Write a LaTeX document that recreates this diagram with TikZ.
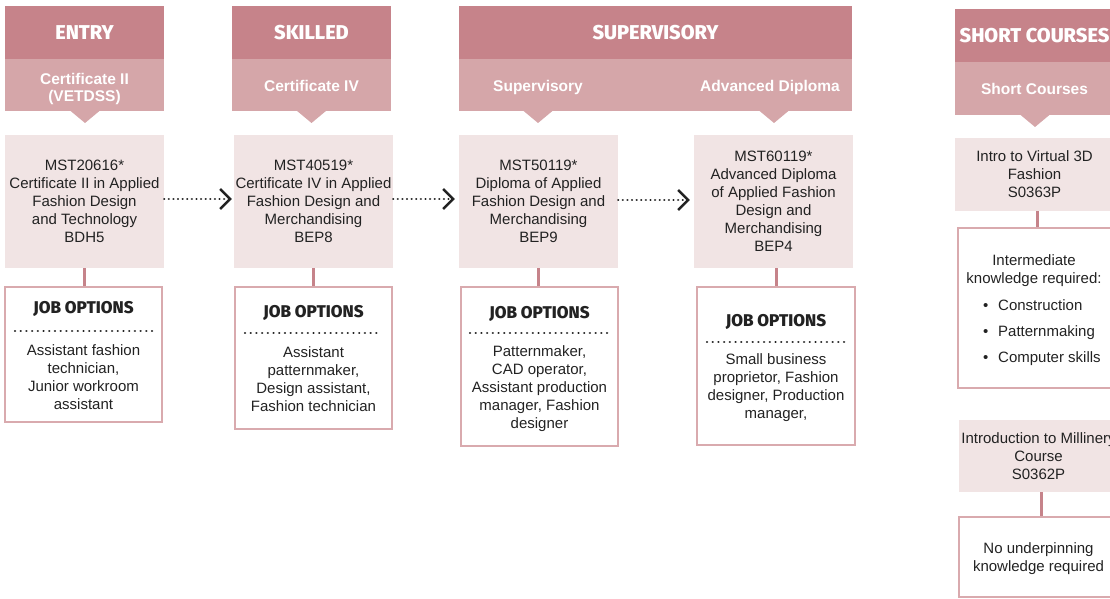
\documentclass[tikz,border=0pt]{standalone}
\usepackage{fontspec}
\setmainfont{Liberation Sans}
\newfontfamily\headfont{Fira Sans}[BoldFont={Fira Sans ExtraBold}]
\usetikzlibrary{arrows.meta}
\definecolor{rosedark}{HTML}{C6838A}
\definecolor{roselight}{HTML}{D5A6A9}
\definecolor{rosefill}{HTML}{F1E4E4}
\definecolor{roseline}{HTML}{D9AAAE}
\definecolor{ink}{HTML}{222222}
\tikzset{
 hdark/.style={fill=rosedark, inner sep=0pt, text=white, font=\headfont\bfseries\fontsize{20}{22}\selectfont},
 hlight/.style={fill=roselight, inner sep=0pt},
 subtxt/.style={text=white, font=\bfseries\fontsize{15.5}{17}\selectfont, align=center, inner sep=0pt},
 pointer/.style={fill=roselight},
 course/.style={fill=rosefill, inner sep=0pt, text=ink, align=center, font=\fontsize{15}{18}\selectfont, minimum width=159pt},
 jobbox/.style={draw=roseline, line width=2.5pt, inner sep=0pt, minimum width=157pt},
 jobtitle/.style={anchor=base, text=ink, inner sep=0pt, font=\headfont\bfseries\fontsize{17}{20}\selectfont},
 jobtxt/.style={text=ink, inner sep=0pt, align=center, font=\fontsize{15}{18}\selectfont},
 sep/.style={draw=ink, line width=2.5pt, line cap=round, dash pattern=on 0.01pt off 5.7pt},
 link/.style={draw=rosedark, line width=3pt},
 next/.style={draw=ink, line width=2.4pt, line cap=round, dash pattern=on 0.01pt off 4.6pt, -{Straight Barb[length=10pt,width=20pt,line width=2.4pt]}},
}
\begin{document}
\begin{tikzpicture}[x=1pt,y=-1pt]
\useasboundingbox (0,0) rectangle (1110,599);

% ---------- ENTRY ----------
\node[hlight, minimum width=159pt, minimum height=52pt] (s1) at (84.5,85) {};
\fill[pointer] (70,110.5) -- (100,110.5) -- (85,123) -- cycle;
\node[hdark, minimum width=159pt, minimum height=53pt] (h1) at (84.5,32.5) {ENTRY};
\node[subtxt] (s1t) at (84.5,89) {Certificate II\\(VETDSS)};
\node[course, minimum height=133pt] (c1) at (84.5,201.5) {MST20616*\\Certificate II in Applied\\Fashion Design\\and Technology\\BDH5};
\node[jobbox, minimum height=135pt] (j1) at (83.5,354.5) {};
\node[jobtitle] (j1t) at (83.5,313.9) {JOB OPTIONS};
\draw[sep] (15,331) -- (153,331);
\node[jobtxt] (j1x) at (83.5,377) {Assistant fashion\\technician,\\Junior workroom\\assistant};
\draw[link] (c1.south) -- (c1.south |- j1.north);

% ---------- SKILLED ----------
\node[hlight, minimum width=159pt, minimum height=52pt] (s2) at (311.5,85) {};
\fill[pointer] (296.5,110.5) -- (326.5,110.5) -- (311.5,123) -- cycle;
\node[hdark, minimum width=159pt, minimum height=53pt] (h2) at (311.5,32.5) {SKILLED};
\node[subtxt, anchor=base] (s2t) at (311.5,92) {Certificate IV};
\node[course, minimum height=133pt] (c2) at (313.5,201.5) {MST40519*\\Certificate IV in Applied\\Fashion Design and\\Merchandising\\BEP8};
\node[jobbox, minimum height=142pt] (j2) at (313.5,358) {};
\node[jobtitle] (j2t) at (313.5,317.9) {JOB OPTIONS};
\draw[sep] (245,333) -- (382,333);
\node[jobtxt] (j2x) at (313.5,379) {Assistant\\patternmaker,\\Design assistant,\\Fashion technician};
\draw[link] (c2.south) -- (c2.south |- j2.north);

% ---------- SUPERVISORY ----------
\node[hlight, minimum width=393pt, minimum height=52pt] (s3) at (655.5,85) {};
\fill[pointer] (523,110.5) -- (553,110.5) -- (538,123) -- cycle;
\fill[pointer] (759,110.5) -- (789,110.5) -- (774,123) -- cycle;
\node[hdark, minimum width=393pt, minimum height=53pt] (h3) at (655.5,32.5) {SUPERVISORY};
\node[subtxt, anchor=base] (s3a) at (538,92) {Supervisory};
\node[subtxt, anchor=base] (s3b) at (770,92) {Advanced Diploma};
\node[course, minimum height=133pt] (c3) at (538.5,201.5) {MST50119*\\Diploma of Applied\\Fashion Design and\\Merchandising\\BEP9};
\node[course, minimum height=133pt] (c4) at (773.5,201.5) {MST60119*\\Advanced Diploma\\of Applied Fashion\\Design and\\Merchandising\\BEP4};
\node[jobbox, minimum height=159pt] (j3) at (539.5,366.5) {};
\node[jobtitle] (j3t) at (539.5,318) {JOB OPTIONS};
\draw[sep] (470,333) -- (609,333);
\node[jobtxt] (j3x) at (539.5,389) {Patternmaker,\\CAD operator,\\Assistant production\\manager, Fashion\\designer};
\node[jobbox, minimum width=158pt, minimum height=158pt] (j4) at (776,366) {};
\node[jobtitle] (j4t) at (776,326) {JOB OPTIONS};
\draw[sep] (707,342) -- (846,342);
\node[jobtxt] (j4x) at (776,388) {Small business\\proprietor, Fashion\\designer, Production\\manager,};
\draw[link] (c3.south) -- (c3.south |- j3.north);
\draw[link] (j4.north |- c4.south) -- (j4.north);

% ---------- SHORT COURSES ----------
\node[hlight, minimum width=159pt, minimum height=53pt] (s4) at (1034.5,88.5) {};
\fill[pointer] (1020,114.5) -- (1050,114.5) -- (1035,127) -- cycle;
\node[hdark, minimum width=159pt, minimum height=53pt] (h4) at (1034.5,35.5) {SHORT COURSES};
\node[subtxt, anchor=base] (s4t) at (1034.5,95) {Short Courses};
\node[course, minimum height=73pt] (c5) at (1034.5,174.5) {Intro to Virtual 3D\\Fashion\\S0363P};
\node[jobbox, minimum width=159pt, minimum height=160pt] (j5) at (1037.5,308) {};
\node[jobtxt] (j5a) at (1034,271) {Intermediate\\knowledge required:};
\node[jobtxt, align=left, anchor=west] (j5b) at (983,332.5) {\makebox[15pt][l]{•}Construction\\[8pt]\makebox[15pt][l]{•}Patternmaking\\[8pt]\makebox[15pt][l]{•}Computer skills};
\draw[link] (j5.north |- c5.south) -- (j5.north);
\node[course, minimum height=72pt] (c6) at (1038.5,456) {Introduction to Millinery\\Course\\S0362P};
\node[jobbox, minimum width=159pt, minimum height=80pt] (j6) at (1038.5,557) {};
\node[jobtxt] (j6x) at (1038.5,559) {No underpinning\\knowledge required};
\draw[link] ([xshift=2.5pt]c6.south) -- ([xshift=2.5pt]c6.south |- j6.north);

% ---------- progression arrows ----------
\draw[next, shorten >=2pt] ([yshift=2.5pt]c1.east) -- ([yshift=2.5pt]c2.west);
\draw[next, shorten >=4pt] ([yshift=2.5pt]c2.east) -- ([yshift=2.5pt]c3.west);
\draw[next, shorten >=4pt] ([yshift=1.5pt]c3.east) -- ([yshift=1.5pt]c4.west);
\end{tikzpicture}
\end{document}
